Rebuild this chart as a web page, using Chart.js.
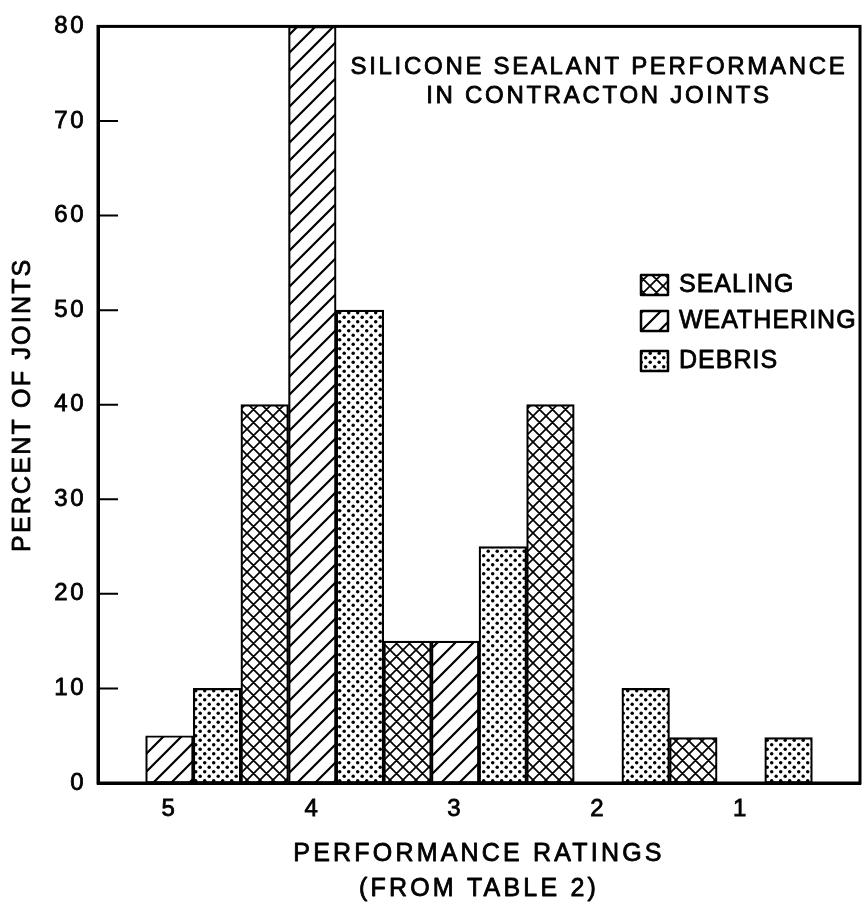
<!DOCTYPE html>
<html lang="en">
<head>
<meta charset="UTF-8">
<title>Silicone Sealant Performance</title>
<script src="https://cdn.jsdelivr.net/npm/chart.js"></script>
<style>
  html, body { margin: 0; padding: 0; background: #fff; }
  #wrap { width: 864px; height: 907px; }
</style>
</head>
<body>
<div id="wrap"><canvas id="perfChart" width="864" height="907"></canvas></div>
<script>
// values, one entry per rating (5 .. 1)
const ratings = ['5', '4', '3', '2', '1'];
const sealing = [0, 40, 15, 40, 4.8];
const weathering = [5, 80, 15, 0, 0];
const debris = [10, 50, 25, 10, 4.8];
const yTicks = [0, 10, 20, 30, 40, 50, 60, 70, 80];
const seriesNames = ['SEALING', 'WEATHERING', 'DEBRIS'];
const chartTitle = ['SILICONE SEALANT PERFORMANCE', 'IN CONTRACTON JOINTS'];
const xTitle = ['PERFORMANCE RATINGS', '(FROM TABLE 2)'];
const yTitle = 'PERCENT OF JOINTS';

const FONT = '"Liberation Sans", Arial, sans-serif';
const TEXT_STROKE = 0.8;

// each rating takes three slots (sealing, weathering, debris), plus one empty slot at the end
const slots = ratings.length * 3 + 1;
const labels = [];
for (let i = 0; i < slots; i++) {
    labels.push(i % 3 === 1 && i < ratings.length * 3 ? ratings[(i - 1) / 3] : '');
}

function spread(values, offset) {
    const out = new Array(slots).fill(null);
    values.forEach((v, i) => { out[i * 3 + offset] = v; });
    return out;
}

const canvas = document.getElementById('perfChart');
const mainCtx = canvas.getContext('2d');

function makePattern(kind) {
    const s = kind === 'cross' ? 13 : (kind === 'diag' ? 18 : 9);
    const c = document.createElement('canvas');
    c.width = s; c.height = s;
    const g = c.getContext('2d');
    g.fillStyle = '#fff';
    g.fillRect(0, 0, s, s);
    g.strokeStyle = '#000';
    g.fillStyle = '#000';
    if (kind === 'dots') {
        [[2.2, 2.2], [6.7, 6.7]].forEach(([x, y]) => {
            g.beginPath();
            g.arc(x, y, 1.75, 0, Math.PI * 2);
            g.fill();
        });
    } else {
        g.lineWidth = kind === 'diag' ? 2.2 : 1.7;
        g.beginPath();
        g.moveTo(-2, s + 2); g.lineTo(s + 2, -2);
        g.moveTo(-2, 2); g.lineTo(2, -2);
        g.moveTo(s - 2, s + 2); g.lineTo(s + 2, s - 2);
        if (kind === 'cross') {
            g.moveTo(-2, -2); g.lineTo(s + 2, s + 2);
            g.moveTo(s - 2, -2); g.lineTo(s + 2, 2);
            g.moveTo(-2, s - 2); g.lineTo(2, s + 2);
        }
        g.stroke();
    }
    return mainCtx.createPattern(c, 'repeat');
}

const patterns = [makePattern('cross'), makePattern('diag'), makePattern('dots')];

function heavyText(ctx, text, x, y) {
    ctx.strokeText(text, x, y);
    ctx.fillText(text, x, y);
}

// inward ticks, box frame, axis titles, title and legend inside the plot
const extrasPlugin = {
    id: 'extras',
    beforeDraw(chart) {
        chart.ctx.letterSpacing = '2.5px';
    },
    afterDatasetsDraw(chart) {
        const { ctx, chartArea: a, scales: { y } } = chart;
        ctx.save();
        ctx.strokeStyle = '#000';
        ctx.lineWidth = 2;
        ctx.beginPath();
        yTicks.forEach(v => {
            if (v > yTicks[0] && v < yTicks[yTicks.length - 1]) {
                const py = y.getPixelForValue(v);
                ctx.moveTo(a.left, py);
                ctx.lineTo(a.left + 20, py);
            }
        });
        ctx.stroke();
        ctx.lineWidth = 3;
        ctx.strokeRect(a.left, a.top, a.right - a.left, a.bottom - a.top);

        ctx.fillStyle = '#000';
        ctx.lineJoin = 'round';
        ctx.font = '24px ' + FONT;
        ctx.letterSpacing = '2.7px';
        ctx.textAlign = 'center';
        ctx.textBaseline = 'middle';
        ctx.lineWidth = TEXT_STROKE;
        heavyText(ctx, chartTitle[0], 599, 67);
        heavyText(ctx, chartTitle[1], 599, 96);

        // axis titles
        const cx = (a.left + a.right) / 2;
        ctx.font = '25px ' + FONT;
        ctx.letterSpacing = '3.2px';
        heavyText(ctx, xTitle[0], cx, 854);
        heavyText(ctx, xTitle[1], cx, 889);
        ctx.save();
        ctx.translate(23, (a.top + a.bottom) / 2);
        ctx.rotate(-Math.PI / 2);
        ctx.letterSpacing = '2.2px';
        heavyText(ctx, yTitle, 0, 0);
        ctx.restore();

        // legend
        ctx.font = '25px ' + FONT;
        ctx.letterSpacing = '1px';
        ctx.textAlign = 'left';
        const rowY = [285, 321, 361];
        seriesNames.forEach((name, i) => {
            const cy = rowY[i];
            ctx.fillStyle = patterns[i];
            ctx.fillRect(641, cy - 10, 27, 20);
            ctx.lineWidth = 2.5;
            ctx.strokeRect(641, cy - 10, 27, 20);
            ctx.fillStyle = '#000';
            ctx.lineWidth = TEXT_STROKE;
            heavyText(ctx, name, 679, cy);
        });
        ctx.restore();
    },
    afterDraw(chart) {
        chart.ctx.letterSpacing = '0px';
    }
};

const barStyle = { borderColor: '#000', borderWidth: 2.2, borderSkipped: false };
const tickFont = { family: FONT, size: 24 };

new Chart(mainCtx, {
    type: 'bar',
    data: {
        labels: labels,
        datasets: [
            { label: seriesNames[0], data: spread(sealing, 0), backgroundColor: patterns[0], ...barStyle },
            { label: seriesNames[1], data: spread(weathering, 1), backgroundColor: patterns[1], ...barStyle },
            { label: seriesNames[2], data: spread(debris, 2), backgroundColor: patterns[2], ...barStyle }
        ]
    },
    options: {
        responsive: false,
        animation: false,
        layout: { padding: { top: 18, right: 4, left: 0, bottom: 0 } },
        datasets: { bar: { grouped: false, barPercentage: 1, categoryPercentage: 1 } },
        plugins: {
            legend: { display: false },
            tooltip: { enabled: false }
        },
        scales: {
            x: {
                grid: { display: false, drawTicks: false },
                border: { display: true, color: '#000', width: 3 },
                ticks: {
                    color: '#000', font: tickFont, padding: 12, autoSkip: false, maxRotation: 0,
                    textStrokeColor: '#000', textStrokeWidth: TEXT_STROKE
                },
                afterFit(scale) { scale.height = 124; }
            },
            y: {
                min: yTicks[0],
                max: yTicks[yTicks.length - 1],
                grid: { display: false, drawTicks: false },
                border: { display: true, color: '#000', width: 3 },
                ticks: {
                    stepSize: 10, color: '#000', font: tickFont, padding: 12,
                    textStrokeColor: '#000', textStrokeWidth: TEXT_STROKE
                },
                afterFit(scale) { scale.width = 98; }
            }
        }
    },
    plugins: [extrasPlugin]
});
</script>
</body>
</html>
